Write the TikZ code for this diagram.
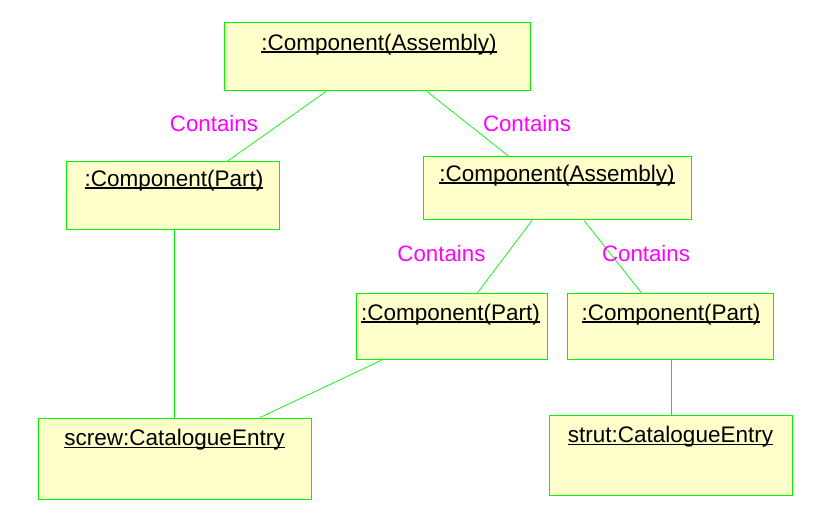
\documentclass[tikz,border=0pt]{standalone}
\usepackage{fontspec}
\setmainfont{Liberation Sans}
\usepackage{tikz}
\usepackage{xcolor}
\definecolor{objgreen}{RGB}{0,245,0}
\definecolor{objfill}{RGB}{255,255,204}
\definecolor{rolepink}{RGB}{255,0,255}
\newcommand{\uname}[1]{\setbox0=\hbox{#1}\rlap{\rule[-2.6pt]{\wd0}{1.6pt}}\box0}

\begin{document}
\begin{tikzpicture}[x=1pt,y=-1pt]
\tikzset{
    obj/.style={%
        draw=objgreen, line width=1pt,
        fill=objfill,
        rectangle,
        inner sep=0pt
        },
    oname/.style={%
        anchor=base, inner sep=0pt,
        font=\fontsize{22.5}{26}\selectfont
        },
    link/.style={%
        draw=objgreen, line width=0.7pt
        },
    role/.style={%
        anchor=base, inner sep=0pt, text=rolepink,
        font=\fontsize{22.3}{26}\selectfont
        },
}
\useasboundingbox (0,0) rectangle (832,526);
%%%OBJECTS
\node[obj, minimum width=306pt, minimum height=68pt] (top) at (377,57) {};
\node[obj, minimum width=213pt, minimum height=68pt] (partL) at (172.5,196) {};
\node[obj, minimum width=268pt, minimum height=63pt] (asm) at (557,188.5) {};
\node[obj, minimum width=191pt, minimum height=65pt] (partM) at (451.5,326.5) {};
\node[obj, minimum width=206pt, minimum height=65pt] (partR) at (670,326.5) {};
\node[obj, minimum width=273pt, minimum height=81pt] (screw) at (174.5,458.5) {};
\node[obj, minimum width=243pt, minimum height=80pt] (strut) at (670.5,455) {};
%%%NAMES
\node[oname] (topname) at ([xshift=2pt,yshift=-28pt]top.north) {\uname{:Component(Assembly)}};
\node[oname] (partLname) at ([xshift=1.5pt,yshift=-25pt]partL.north) {\uname{:Component(Part)}};
\node[oname] (asmname) at ([yshift=-25pt]asm.north) {\uname{:Component(Assembly)}};
\node[oname] (partMname) at ([xshift=-1pt,yshift=-27pt]partM.north) {\uname{:Component(Part)}};
\node[oname] (partRname) at ([xshift=1pt,yshift=-27pt]partR.north) {\uname{:Component(Part)}};
\node[oname] (screwname) at ([yshift=-28pt]screw.north) {\uname{screw:CatalogueEntry}};
\node[oname] (strutname) at ([yshift=-28pt]strut.north) {\uname{strut:CatalogueEntry}};
%%%LINKS
\draw[link] ([xshift=-51pt]top.south) -- ([xshift=54.5pt]partL.north);
\draw[link] ([xshift=50pt]top.south) -- ([xshift=-48pt]asm.north);
\draw[link] ([xshift=-25pt]asm.south) -- ([xshift=25.5pt]partM.north);
\draw[link] ([xshift=27pt]asm.south) -- ([xshift=-28pt]partR.north);
\draw[link] ([xshift=1.5pt]partL.south) -- ([xshift=-0.5pt]screw.north);
\draw[link] ([xshift=-68.5pt]partM.south) -- ([xshift=85.5pt]screw.north);
\draw[link] ([xshift=1pt]partR.south) -- ([xshift=0.5pt]strut.north);
%%%ROLES
\node[role] (c1) at (214,132) {Contains};
\node[role] (c2) at (527,132) {Contains};
\node[role] (c3) at (441.5,262) {Contains};
\node[role] (c4) at (646,262) {Contains};
\end{tikzpicture}
\end{document}
